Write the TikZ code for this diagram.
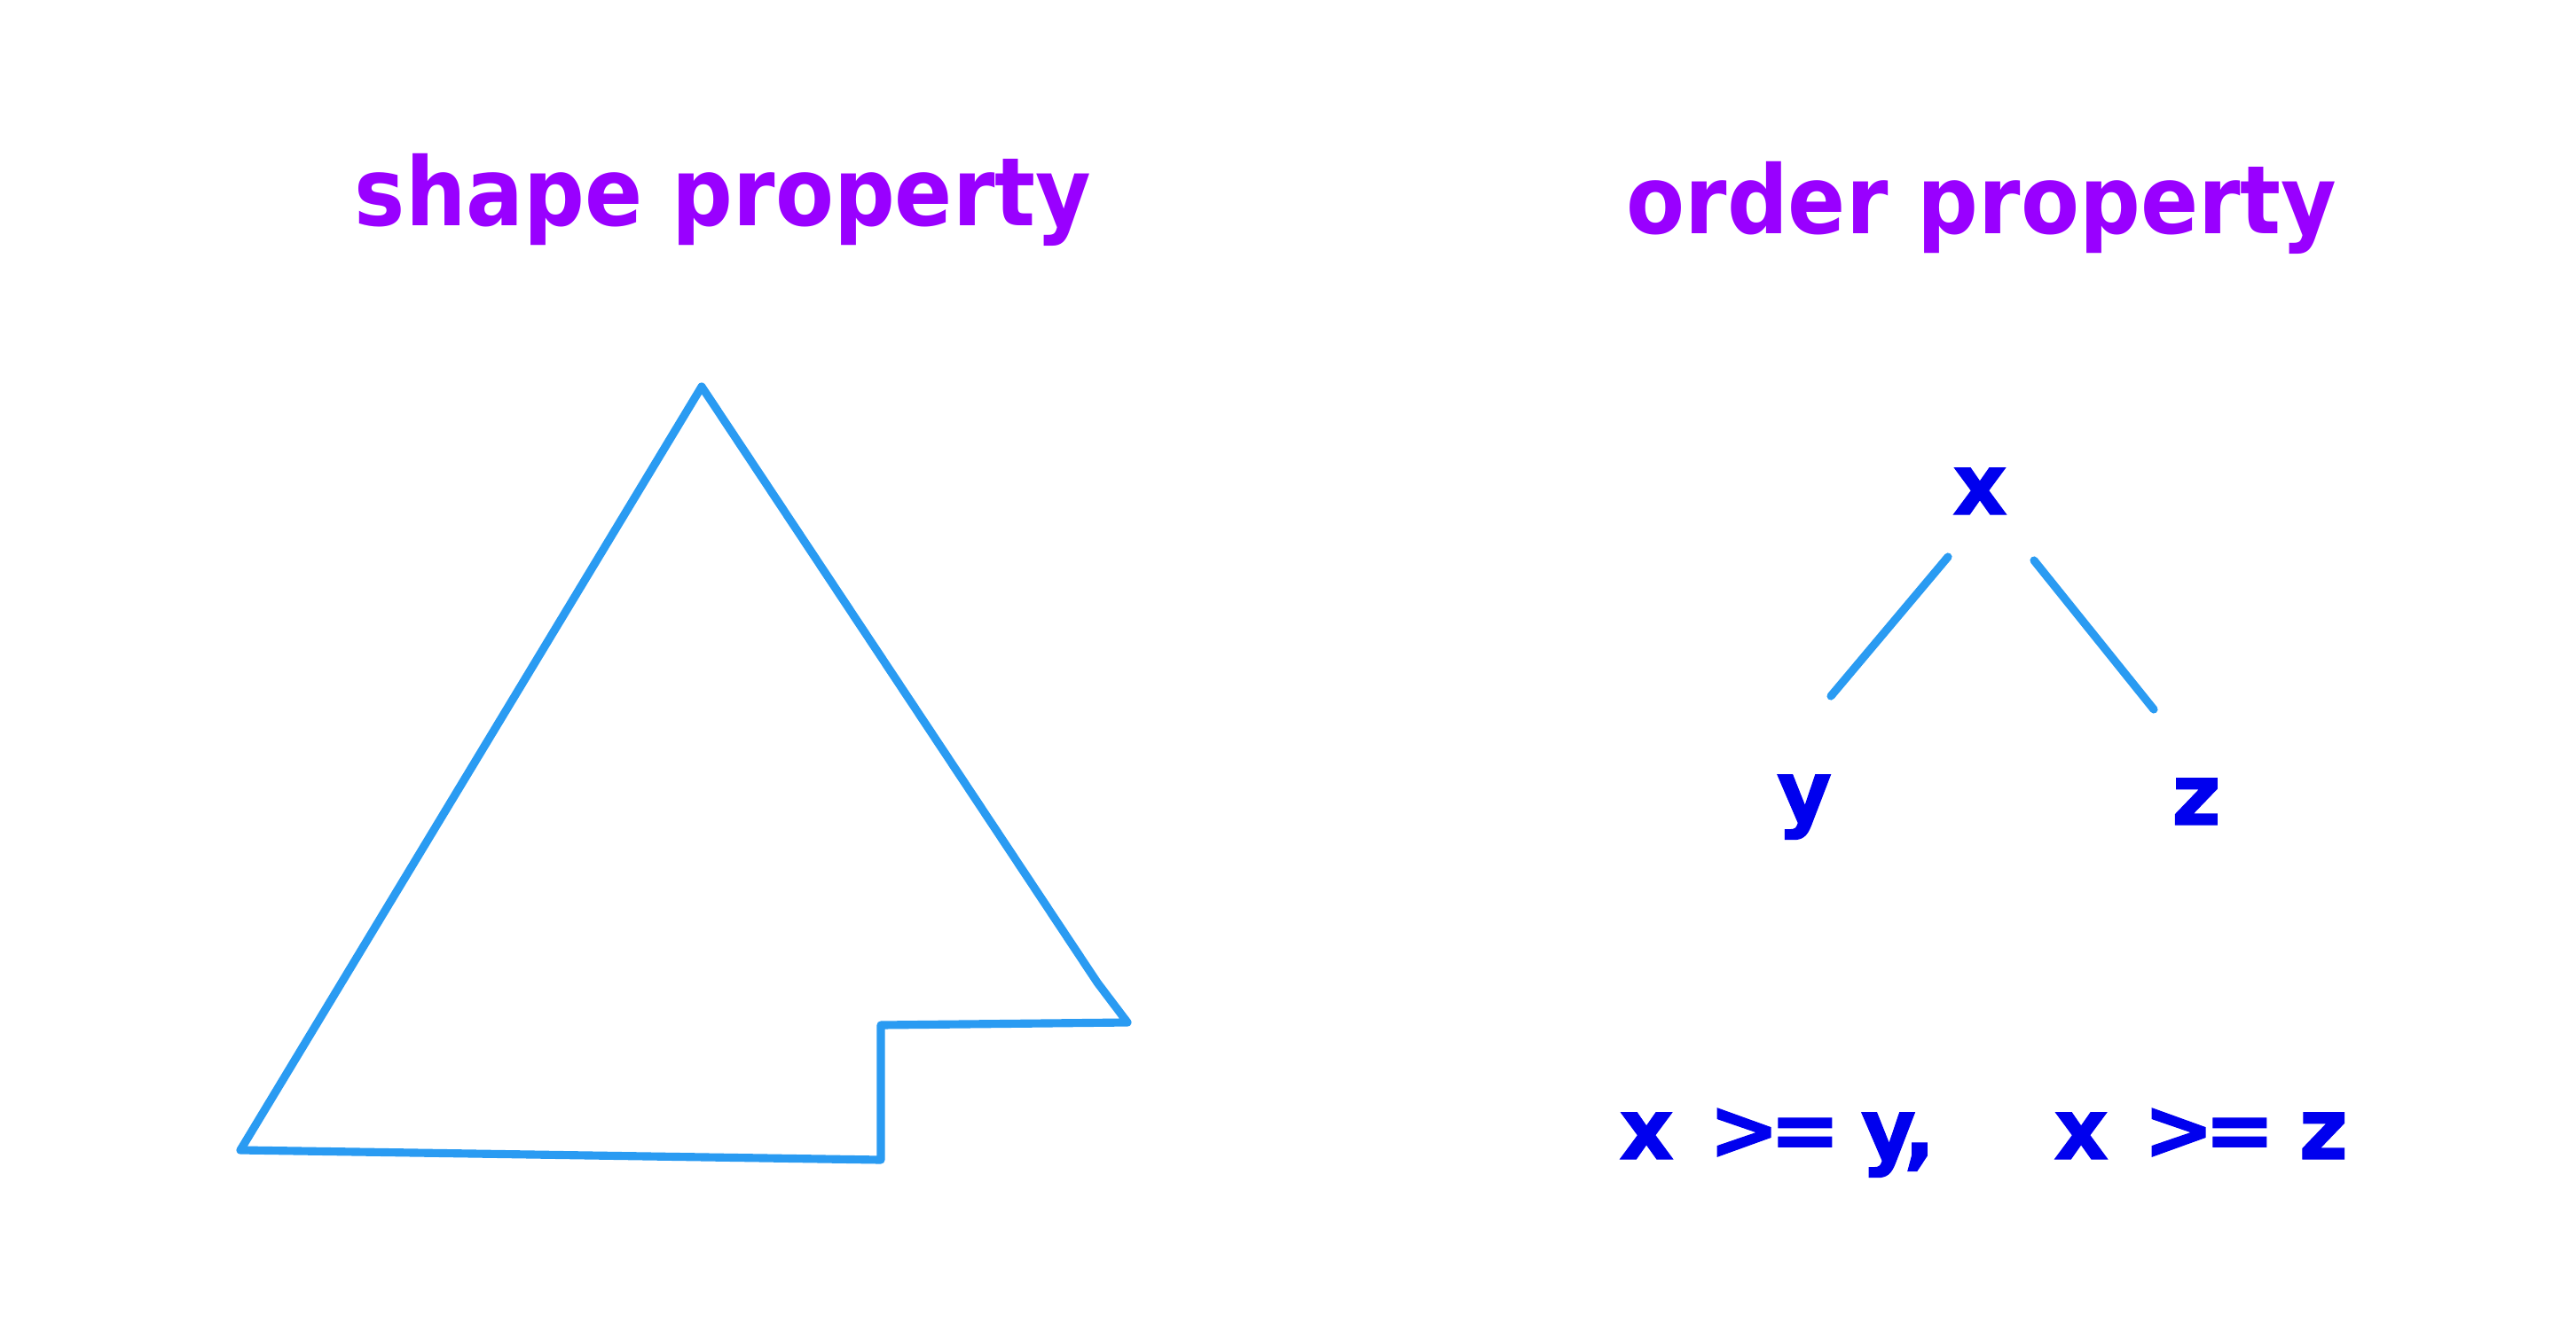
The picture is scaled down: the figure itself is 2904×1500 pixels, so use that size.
\documentclass[tikz,border=0pt]{standalone}
\usepackage{fontspec}
\setmainfont{DejaVu Sans}
\newfontfamily\titlefont{DejaVu Sans Condensed}
\newfontfamily\letterfont[FakeBold=1.2]{DejaVu Sans Bold}
\definecolor{titlepurple}{HTML}{9900FF}
\definecolor{letterblue}{HTML}{0000EE}
\definecolor{lineblue}{HTML}{2A9BF2}
\begin{document}
\begin{tikzpicture}[x=0.025cm,y=-0.025cm,
  title/.style={text=titlepurple, font=\titlefont\bfseries\fontsize{76}{90}\selectfont, inner sep=0pt, anchor=base},
  letter/.style={text=letterblue, font=\letterfont\fontsize{68}{80}\selectfont, inner sep=0pt, anchor=base},
  edge/.style={draw=lineblue, line width=6.5pt, line cap=round, line join=round}]
\useasboundingbox[fill=white] (0,0) rectangle (2904,1500);
% titles
\node[title] (t1) at (815,254) {shape property};
\node[title] (t2) at (2234,263) {order property};
% polygon
\coordinate (p1) at (791,436);
\coordinate (p2) at (1237,1108);
\coordinate (p3) at (1271,1153);
\coordinate (p4) at (993,1156);
\coordinate (p5) at (993,1308);
\coordinate (p6) at (271,1297);
\draw[edge] (p1) -- (p2) -- (p3) -- (p4) -- (p5) -- (p6) -- cycle;
% tree
\node[letter] (x) at (2232,580) {x};
\node[letter] (y) at (2034,926) {y};
\node[letter] (z) at (2476,930) {z};
\coordinate (xl) at (2196,628);
\coordinate (yl) at (2064,785);
\coordinate (xr) at (2293,632);
\coordinate (zr) at (2428,800);
\draw[edge] (xl) -- (yl);
\draw[edge] (xr) -- (zr);
% relations
\node[letter, anchor=base west] (r1) at (1825,1307) {x \kern0.06em>\kern-0.12em=\kern0.24em y\kern-0.15em,};
\node[letter, anchor=base west] (r2) at (2315,1307) {x \kern0.06em>\kern-0.12em=\kern0.28em z};
\end{tikzpicture}
\end{document}
